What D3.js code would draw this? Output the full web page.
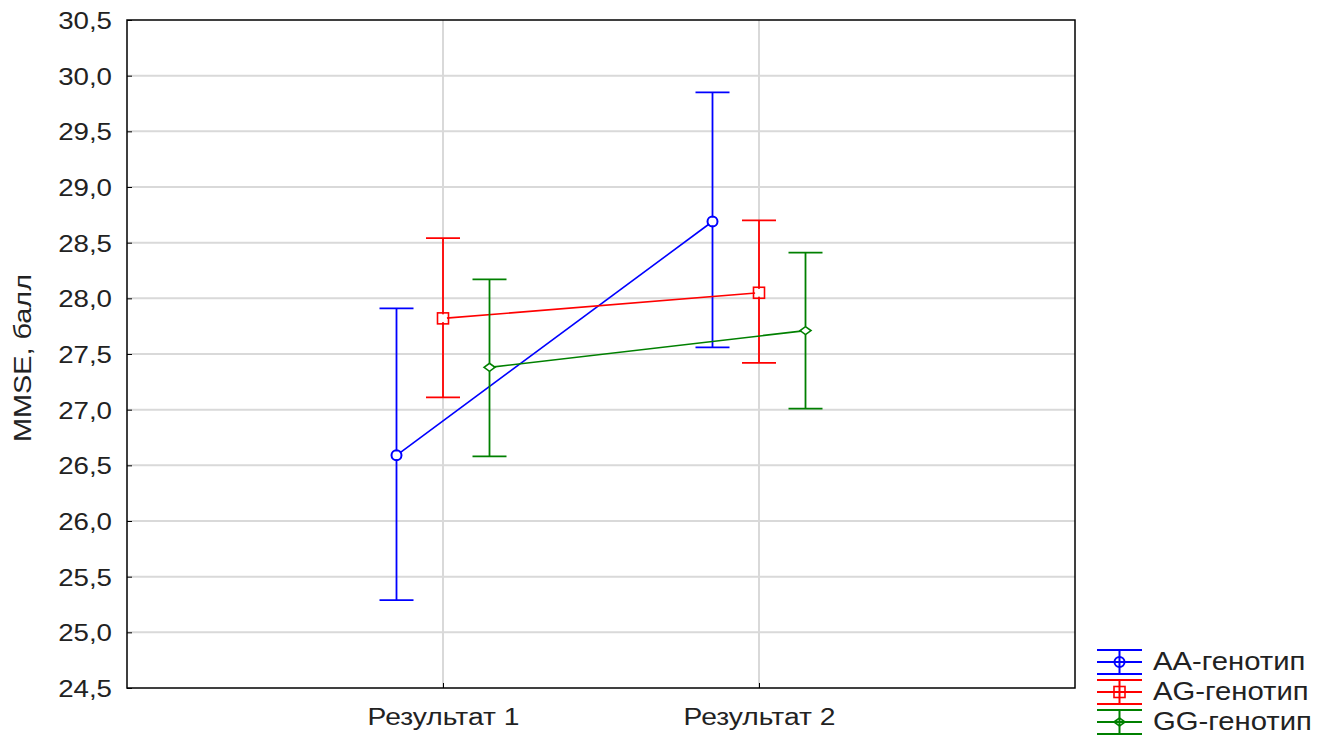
<!DOCTYPE html>
<html><head><meta charset="utf-8">
<script src="https://cdn.jsdelivr.net/npm/d3@7"></script>
<style>body{margin:0;background:#fff}svg{display:block}text{font-family:"Liberation Sans",Arial,sans-serif}</style>
</head><body>
<svg id="c" width="1329" height="735"></svg>
<script>
const categories = ["Результат 1", "Результат 2"];
const seriesNames = ["AA-генотип", "AG-генотип", "GG-генотип"];
const colors = ["#0000ff", "#ff0000", "#008000"];
const means = [[26.59, 28.69], [27.82, 28.05], [27.38, 27.71]];
const upper = [[27.91, 29.85], [28.54, 28.70], [28.17, 28.41]];
const lower = [[25.29, 27.56], [27.11, 27.42], [26.58, 27.01]];
const yTicks = [24.5, 25, 25.5, 26, 26.5, 27, 27.5, 28, 28.5, 29, 29.5, 30, 30.5];

const svg = d3.select("#c");
const L = 127, R = 1075, T = 20, B = 688;
const y = d3.scaleLinear().domain([24.5, 30.5]).range([B, T]);
const x = d3.scalePoint().domain(categories).range([L, R]).padding(1);
const off = d3.scalePoint().domain(seriesNames).range([-46.5, 46.5]);
const fmt = v => d3.format(".1f")(v).replace(".", ",");

function stretch(sel, k) {
  sel.each(function () {
    const w = this.getComputedTextLength();
    this.setAttribute("textLength", w * k);
    this.setAttribute("lengthAdjust", "spacingAndGlyphs");
  });
}

// grid
svg.append("g").selectAll("line").data(yTicks.slice(1, -1)).join("line")
  .attr("x1", L).attr("x2", R).attr("y1", d => y(d)).attr("y2", d => y(d))
  .attr("stroke", "#d9d9d9").attr("stroke-width", 2);
svg.append("g").selectAll("line").data(categories).join("line")
  .attr("x1", d => x(d)).attr("x2", d => x(d)).attr("y1", T).attr("y2", B)
  .attr("stroke", "#d9d9d9").attr("stroke-width", 2);

// axes
const ya = d3.axisLeft(y).tickValues(yTicks).tickFormat(fmt).tickSizeInner(-5).tickSizeOuter(0).tickPadding(15);
const gy = svg.append("g").attr("transform", `translate(${L},0)`).call(ya);
gy.attr("font-family", null);
gy.select(".domain").remove();
gy.selectAll("line").attr("stroke", "#000");
gy.selectAll("text").attr("font-size", 24.5).attr("fill", "#222").attr("dy", "0.34em");
stretch(gy.selectAll("text"), 1.13);

const xa = d3.axisBottom(x).tickSizeInner(-5).tickSizeOuter(0).tickPadding(0);
const gx = svg.append("g").attr("transform", `translate(0,${B})`).call(xa);
gx.attr("font-family", null);
gx.select(".domain").remove();
gx.selectAll("line").attr("stroke", "#000");
gx.selectAll("text").attr("font-size", 23.5).attr("fill", "#222").attr("y", 37).attr("dy", null);
stretch(gx.selectAll("text"), 1.2);

svg.append("rect").attr("x", L).attr("y", T).attr("width", R - L).attr("height", B - T)
  .attr("fill", "none").attr("stroke", "#000").attr("stroke-width", 1.5);

const yl = svg.append("text").attr("transform", `translate(31,358) rotate(-90)`)
  .attr("text-anchor", "middle").attr("font-size", 24).attr("fill", "#222").text("MMSE, балл");
stretch(yl, 1.2);

function marker(g, i, cx, cy, c) {
  if (i === 0) g.append("circle").attr("cx", cx).attr("cy", cy).attr("r", 5).attr("fill", "none").attr("stroke", c).attr("stroke-width", 2);
  else if (i === 1) g.append("rect").attr("x", cx - 5.5).attr("y", cy - 5.5).attr("width", 11).attr("height", 11).attr("fill", "none").attr("stroke", c).attr("stroke-width", 1.6);
  else g.append("path").attr("d", `M${cx - 5.5},${cy}L${cx},${cy - 4}L${cx + 5.5},${cy}L${cx},${cy + 4}Z`).attr("fill", "none").attr("stroke", c).attr("stroke-width", 1.6);
}

seriesNames.forEach((s, i) => {
  const g = svg.append("g");
  const c = colors[i];
  const pts = categories.map((cat, j) => [x(cat) + off(s), y(means[i][j])]);
  g.append("path").attr("d", d3.line()(pts)).attr("fill", "none").attr("stroke", c).attr("stroke-width", 1.6);
  categories.forEach((cat, j) => {
    const cx = x(cat) + off(s);
    g.append("line").attr("x1", cx).attr("x2", cx).attr("y1", y(upper[i][j])).attr("y2", y(lower[i][j])).attr("stroke", c).attr("stroke-width", 1.8);
    [upper[i][j], lower[i][j]].forEach(v => g.append("line").attr("x1", cx - 17).attr("x2", cx + 17).attr("y1", y(v)).attr("y2", y(v)).attr("stroke", c).attr("stroke-width", 1.8));
    g.append("circle").attr("cx", cx).attr("cy", y(means[i][j])).attr("r", 4).attr("fill", "#fff");
    marker(g, i, cx, y(means[i][j]), c);
  });
});

// legend
const legY = [662, 692, 722];
seriesNames.forEach((s, i) => {
  const g = svg.append("g");
  const c = colors[i], cy = legY[i], x0 = 1097, x1 = 1142, xm = (x0 + x1) / 2;
  [cy - 12, cy + 12].forEach(yy => g.append("line").attr("x1", x0).attr("x2", x1).attr("y1", yy).attr("y2", yy).attr("stroke", c).attr("stroke-width", 2));
  g.append("line").attr("x1", x0).attr("x2", x1).attr("y1", cy).attr("y2", cy).attr("stroke", c).attr("stroke-width", 2);
  g.append("line").attr("x1", xm).attr("x2", xm).attr("y1", cy - 12).attr("y2", cy + 12).attr("stroke", c).attr("stroke-width", 2);
  marker(g, i, xm, cy, c);
  const t = g.append("text").attr("x", 1153).attr("y", cy + 8).attr("font-size", 25).attr("fill", "#222").text(s);
  stretch(t, 1.17);
});
</script>
</body></html>
